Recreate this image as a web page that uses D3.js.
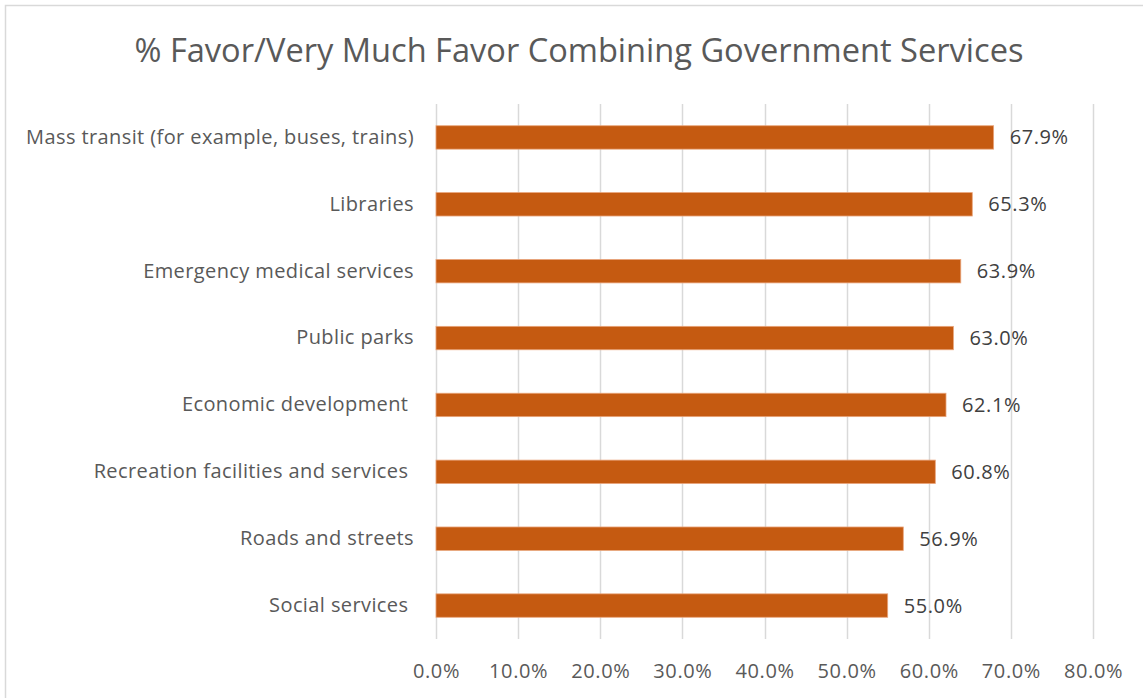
<!DOCTYPE html>
<html>
<head>
<meta charset="utf-8">
<script src="https://cdn.jsdelivr.net/npm/d3@7"></script>
<style>
  body { margin: 0; background: #fff; }
  svg { display: block; font-family: "Open Sans", sans-serif; }
  .cat text { white-space: pre; }
</style>
</head>
<body>
<div id="graf"></div>
<script>
const categories = [
  "Mass transit (for example, buses, trains)",
  "Libraries",
  "Emergency medical services",
  "Public parks",
  "Economic development ",
  "Recreation facilities and services ",
  "Roads and streets",
  "Social services "
]
const values = [67.9, 65.3, 63.9, 63.0, 62.1, 60.8, 56.9, 55.0]
const xTicks = [0, 10, 20, 30, 40, 50, 60, 70, 80]
const title = "% Favor/Very Much Favor Combining Government Services"

const anchoTotal = 1143
const altoTotal = 698
const margins = { left: 436, top: 104, right: 50, bottom: 59 }
const ancho = 1093 - margins.left
const alto = 639 - margins.top

const svg = d3.select("#graf")
  .append("svg")
  .attr("width", anchoTotal)
  .attr("height", altoTotal)

// chart frame (cut off at right/bottom)
svg.append("rect")
  .attr("x", 5.5)
  .attr("y", 5.5)
  .attr("width", anchoTotal + 20)
  .attr("height", altoTotal + 20)
  .attr("fill", "#fff")
  .attr("stroke", "#d9d9d9")
  .attr("stroke-width", 1.5)

svg.append("text")
  .attr("x", 579)
  .attr("y", 62)
  .attr("text-anchor", "middle")
  .attr("fill", "#595959")
  .attr("font-size", 32.6)
  .text(title)

const g = svg.append("g")
  .attr("transform", `translate(${margins.left}, ${margins.top})`)

const x = d3.scaleLinear().domain([0, 80]).range([0, ancho])
const y = d3.scaleBand().domain(categories).range([0, alto]).paddingInner(0.65).paddingOuter(0.325)

// gridlines
g.append("g")
  .selectAll("line")
  .data(xTicks)
  .join("line")
  .attr("x1", (d) => Math.round(x(d)) + 0.5)
  .attr("x2", (d) => Math.round(x(d)) + 0.5)
  .attr("y1", 0)
  .attr("y2", alto)
  .attr("stroke", "#d9d9d9")
  .attr("stroke-width", 1.5)

// x tick labels
const xAxis = d3.axisBottom(x)
  .tickValues(xTicks)
  .tickSize(0)
  .tickPadding(25)
  .tickFormat((d) => d.toFixed(1) + "%")
const ax = g.append("g")
  .attr("transform", `translate(0, ${alto})`)
  .call(xAxis)
ax.select(".domain").remove()
ax.selectAll("text")
  .attr("fill", "#595959")
  .attr("font-size", 20)
  .attr("letter-spacing", 0.6)
  .attr("font-family", "Open Sans, sans-serif")

// category labels
const yAxis = d3.axisLeft(y).tickSize(0).tickPadding(22)
const ay = g.append("g").attr("class", "cat").call(yAxis)
ay.select(".domain").remove()
ay.selectAll("text")
  .attr("fill", "#595959")
  .attr("font-size", 20)
  .attr("letter-spacing", 0.4)
  .attr("font-family", "Open Sans, sans-serif")

// bars
g.append("g")
  .selectAll("rect")
  .data(values)
  .join("rect")
  .attr("x", x(0))
  .attr("y", (d, i) => y(categories[i]))
  .attr("width", (d) => x(d) - x(0))
  .attr("height", y.bandwidth())
  .attr("fill", "#c55a11")
  .attr("stroke", "#e9a47a")
  .attr("stroke-width", 0.8)

// value labels
g.append("g")
  .selectAll("text")
  .data(values)
  .join("text")
  .attr("x", (d) => x(d) + 16)
  .attr("y", (d, i) => y(categories[i]) + y.bandwidth() / 2)
  .attr("dy", "0.35em")
  .attr("fill", "#404040")
  .attr("font-size", 20)
  .attr("letter-spacing", 0.6)
  .text((d) => d.toFixed(1) + "%")
</script>
</body>
</html>
